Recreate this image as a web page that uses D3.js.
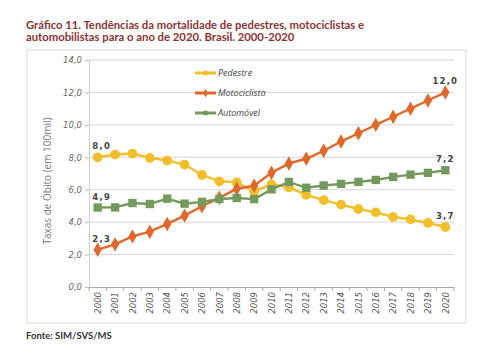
<!DOCTYPE html>
<html><head><meta charset="utf-8">
<script src="https://cdn.jsdelivr.net/npm/d3@7"></script>
<style>body{margin:0;background:#fff}svg{display:block}</style>
</head><body>
<svg id="c" width="497" height="360"></svg>
<script>
const years = d3.range(2000, 2021).map(String);
const pedestre = [8.0,8.17,8.23,7.96,7.8,7.55,6.91,6.52,6.45,5.9,6.33,6.15,5.68,5.36,5.08,4.81,4.6,4.32,4.17,3.95,3.7];
const motociclista = [2.3,2.63,3.12,3.41,3.89,4.4,4.98,5.5,6.06,6.25,7.05,7.62,7.91,8.4,8.97,9.48,10.0,10.5,11.0,11.5,12.0];
const automovel = [4.9,4.91,5.18,5.12,5.45,5.14,5.25,5.43,5.49,5.42,6.02,6.48,6.12,6.26,6.36,6.48,6.6,6.79,6.93,7.04,7.2];
const yTicks = [0,2,4,6,8,10,12,14];
const seriesNames = ["Pedestre","Motociclista","Automóvel"];
const colors = ["#f2be2a","#e0682a","#739a5c"];
const shapes = ["circle","diamond","square"];

const svg = d3.select("#c");
const L=89, R=454, T=60, B=287;
const x = d3.scalePoint().domain(years).range([L,R]).padding(0.5);
const y = d3.scaleLinear().domain([0,14]).range([B,T]);
const fmt = v => d3.format(".1f")(v).replace(".",",");

// title
const title = svg.append("g").attr("font-family","Lato, 'Open Sans', sans-serif").attr("font-weight","bold")
  .attr("font-size","11.3px").attr("fill","#8a3434");
title.append("text").attr("x",26).attr("y",29).text("Gráfico 11. Tendências da mortalidade de pedestres, motociclistas e");
title.append("text").attr("x",26).attr("y",41).text("automobilistas para o ano de 2020. Brasil. 2000-2020");

// frame
svg.append("rect").attr("x",27).attr("y",50).attr("width",439).attr("height",273)
  .attr("fill","none").attr("stroke","#e0e0e0").attr("stroke-width",1.2);

// grid
svg.append("g").selectAll("line").data(yTicks.filter(d=>d>0)).join("line")
  .attr("x1",L).attr("x2",R).attr("y1",d=>y(d)).attr("y2",d=>y(d))
  .attr("stroke","#d6d6d6").attr("stroke-width",1);

// y axis
const yAxis = svg.append("g").attr("transform",`translate(${L},0)`)
  .call(d3.axisLeft(y).tickValues(yTicks).tickFormat(fmt).tickSize(4).tickPadding(3));
yAxis.select(".domain").attr("stroke","#d0d0d0");
yAxis.selectAll(".tick line").attr("stroke","#bbb");
yAxis.selectAll("text").attr("font-family","'DejaVu Sans', sans-serif").attr("font-style","italic")
  .attr("font-size","8.5px").attr("fill","#666");

// x axis
const band = x.step();
const xAxis = svg.append("g").attr("transform",`translate(0,${B})`)
  .call(d3.axisBottom(x).tickSize(0).tickPadding(5));
xAxis.select(".domain").attr("stroke","#aaa");
xAxis.selectAll(".tick text").attr("font-family","'DejaVu Sans', sans-serif").attr("font-style","italic")
  .attr("font-size","8.5px").attr("fill","#555")
  .attr("transform","rotate(-90)").attr("text-anchor","end").attr("dx","-5").attr("dy","0.32em").attr("y",0);
svg.append("g").selectAll("line").data(d3.range(years.length+1)).join("line")
  .attr("x1",i=>L+i*band).attr("x2",i=>L+i*band).attr("y1",B).attr("y2",B+4)
  .attr("stroke","#aaa");

// y title
svg.append("text").attr("transform","translate(51,181) rotate(-90)").attr("text-anchor","middle")
  .attr("font-family","'Open Sans', sans-serif").attr("font-size","10px").attr("fill","#7a7a7a")
  .text("Taxas de Óbito (em 100mil)");

const data = [pedestre, motociclista, automovel];
const sym = {circle:d3.symbolCircle, diamond:d3.symbolDiamond, square:d3.symbolSquare};
const sizes = {circle:75, diamond:60, square:70};
const line = d3.line().x((d,i)=>x(years[i])).y(d=>y(d));
data.forEach((vals,k)=>{
  const g = svg.append("g");
  g.append("path").attr("d",line(vals)).attr("fill","none").attr("stroke",colors[k]).attr("stroke-width",2.4);
  g.selectAll("path.m").data(vals).join("path").attr("class","m")
    .attr("transform",(d,i)=>`translate(${x(years[i])},${y(d)})`)
    .attr("d",d3.symbol().type(sym[shapes[k]]).size(sizes[shapes[k]])).attr("fill",colors[k]);
  // end labels
  [[0,4],[vals.length-1,0]].forEach(([i,dx])=>{
    svg.append("text").attr("x",x(years[i])+dx).attr("y",y(vals[i])-8).attr("text-anchor","middle")
      .attr("font-family","'DejaVu Sans', sans-serif").attr("font-weight","bold").attr("font-size","8.5px").attr("fill","#444")
      .attr("letter-spacing","1.2px").text(fmt(vals[i]));
  });
});

// legend
const leg = svg.append("g");
seriesNames.forEach((n,k)=>{
  const ly = [73,93,113][k];
  leg.append("line").attr("x1",195).attr("x2",216).attr("y1",ly).attr("y2",ly).attr("stroke",colors[k]).attr("stroke-width",3);
  leg.append("path").attr("transform",`translate(205.5,${ly})`).attr("d",d3.symbol().type(sym[shapes[k]]).size(20)).attr("fill",colors[k]);
  leg.append("text").attr("x",218).attr("y",ly).attr("dy","0.35em").attr("font-family","'Open Sans', sans-serif")
    .attr("font-style","italic").attr("font-size","9px").attr("fill","#444").text(n);
});

// source
svg.append("text").attr("x",26).attr("y",339).attr("font-family","Lato, 'Open Sans', sans-serif").attr("font-weight","bold")
  .attr("font-size","9.5px").attr("fill","#333").text("Fonte: SIM/SVS/MS");
</script>
</body></html>
